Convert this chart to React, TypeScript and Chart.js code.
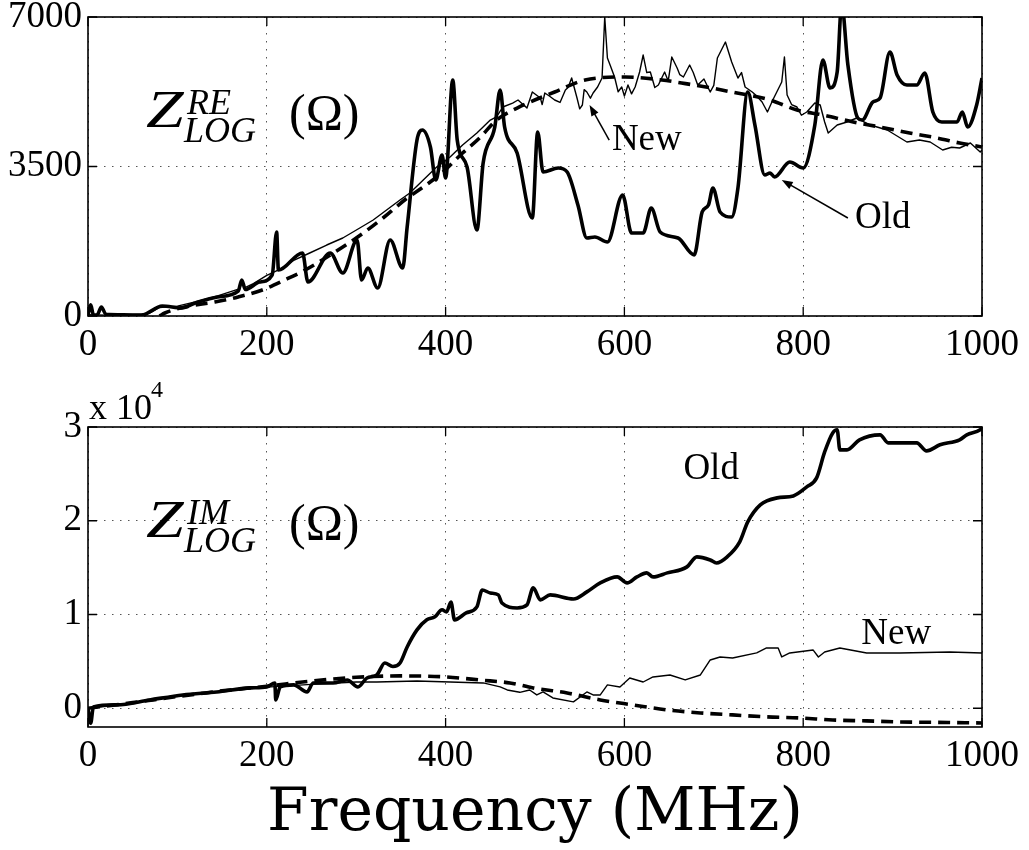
import React, { useEffect, useRef } from 'react';
import { Chart, registerables } from 'chart.js';

Chart.register(...registerables);

// ---------- data (frequency in MHz, impedance in Ohm) ----------
const xTicks = [0, 200, 400, 600, 800, 1000];
const reTicks = [0, 3500, 7000];
const imTicks = [0, 10000, 20000, 30000];
const imTickLabels = ['0', '1', '2', '3'];

const reOldF = [0,3,6,10,15,20,40,60,83,105,120,145,168,172,176,192,206,211,213,240,246,271,285,301,306,313,324,338,352,357,368,374,383,389,396,400,408,413,424,435,442,455,461,466,480,497,503,509,526,536,548,558,567,581,598,608,621,630,640,660,678,687,694,699,707,720,727,738,746,757,763,768,785,800,813,822,830,838,843,850,861,866,878,886,897,905,916,927,936,945,955,972,978,984,994,1000];
const reOldV = [20,260,30,20,210,40,30,20,234,187,304,445,580,843,620,796,960,1966,1077,1475,796,1475,1007,1779,843,1124,655,1779,1124,2083,4120,4354,3956,3184,3769,3231,5525,4120,3488,2013,3582,4424,5291,4424,3816,2294,4307,3371,3465,3371,2599,1826,1849,1732,2833,1943,1943,2528,1966,1826,1428,2435,2599,2996,2435,2318,2996,5244,4471,3301,3348,3254,3605,3465,4471,5993,5337,5712,7300,5876,4635,4588,5010,5103,6180,5642,5408,5408,5689,4776,4542,4542,4776,4424,4940,5572];

const reNewF = [0,20,40,60,70,80,100,120,145,170,172,175,185,200,215,230,248,267,285,304,319,334,349,360,375,390,405,419,435,450,457,464,475,481,491,497,506,508,511,516,522,528,534,537,541,547,550,553,555,558,562,565,570,575,578,581,584,589,593,597,600,604,608,612,617,621,625,629,634,638,645,649,653,659,662,666,673,677,682,689,696,700,704,713,720,727,731,735,743,748,754,760,766,776,779,782,787,793,798,804,813,819,824,828,838,849,860,875,894,916,930,942,956,966,975,987,998,1000];
const reNewV = [30,20,30,40,80,200,230,330,470,640,800,660,760,950,1100,1300,1475,1662,1826,2060,2247,2481,2715,2879,3184,3488,3722,4003,4284,4588,4659,4893,4986,5057,4869,5244,5103,4950,5220,5150,5057,5000,5291,5350,5572,5103,4850,4940,5300,5244,5100,5220,5361,5572,7000,6040,5876,5595,5250,5361,5150,5408,5200,5361,5712,6110,5700,5712,5350,5408,5712,5500,6063,5806,5650,5595,5876,5700,5408,5550,5244,5400,6040,6414,5946,5572,5700,5361,5244,5150,5010,4776,5057,5478,6063,5174,4950,4893,4700,4776,4986,4940,4542,4284,4471,4542,4635,4471,4354,4073,4120,4073,3886,3950,3933,4050,3839,3886];

const reFitF = [80,86,108,142,168,195,220,243,285,308,330,357,375,397,419,438,457,480,522,556,601,642,664,698,720,763,793,822,856,886,919,950,975,1000];
const reFitV = [0,70,210,328,445,609,843,1077,1615,1943,2294,2762,3020,3371,3816,4167,4588,4869,5244,5525,5595,5525,5455,5337,5244,5057,4822,4705,4542,4424,4284,4167,4050,3956];

const imOldF = [0,3,6,32,69,106,144,181,200,209,210,215,230,245,252,274,290,302,312,323,332,341,349,357,368,379,388,396,401,406,410,423,435,441,450,459,463,480,491,498,506,517,543,558,573,592,603,614,625,632,648,670,681,696,703,715,729,738,752,771,789,804,815,824,833,838,841,849,863,886,895,927,938,953,975,983,998,1000];
const imOldV = [0,-1600,140,360,885,1420,1740,2170,2270,2700,885,2270,2490,1740,2700,2700,3020,2270,3230,3550,4830,4450,4830,6540,8360,9430,9750,10500,10270,11330,9430,10170,10810,12620,12300,12090,11220,10700,11020,12840,11560,12090,11660,12410,13370,14010,13370,14010,14440,14010,14440,15080,16150,15820,15500,16150,17750,19880,21690,22440,22650,23610,24570,27340,29370,29700,27560,27560,28630,29160,28310,28310,27450,28100,28630,29160,29700,29900];

const imNewF = [0,30,70,100,150,200,250,300,323,368,405,442,461,469,483,494,502,509,520,543,558,565,573,581,595,606,621,632,651,668,685,696,707,721,748,759,772,776,785,811,817,824,841,871,908,964,1000];
const imNewV = [0,330,850,1300,1800,2250,2550,2800,2800,2910,2800,2700,2280,1950,1700,1950,1420,1740,1100,680,1740,1420,1420,2490,2270,3230,2800,3340,3550,3020,3550,5150,5470,5360,5900,6430,6430,5470,5900,6220,5470,6000,6430,5900,5900,6000,5900];

const imFitF = [0,50,100,150,200,250,300,349,400,440,472,498,536,573,610,648,685,721,759,796,833,871,908,944,1000];
const imFitV = [0,600,1250,1850,2350,2900,3300,3450,3340,3000,2700,2170,1630,890,350,-180,-500,-710,-920,-1030,-1250,-1350,-1460,-1500,-1570];

// annotation anchors in data units: [x, y]
const reNewLabel = { text: 'New', at: [586, 3886], from: [583, 4120], tip: [561, 4940] };
const reOldLabel = { text: 'Old', at: [858, 2060], from: [850, 2294], tip: [776, 3184] };
const imOldLabel = { text: 'Old', at: [666, 24470] };
const imNewLabel = { text: 'New', at: [865, 6860] };

const SERIF = '"Liberation Serif", "Times New Roman", serif';
const W = 1029;
const TOP_H = 375;
const BOT_H = 475;

const pts = (f: number[], v: number[]) => f.map((x, i) => ({ x, y: v[i] }));

function datasets(oldF: number[], oldV: number[], newF: number[], newV: number[], fitF: number[], fitV: number[]) {
  return [
    {
      label: 'Fit', data: pts(fitF, fitV), borderColor: '#000', borderWidth: 3.6,
      borderDash: [12, 7], pointRadius: 0, cubicInterpolationMode: 'monotone' as const, fill: false,
    },
    {
      label: 'New', data: pts(newF, newV), borderColor: '#000', borderWidth: 1.4,
      pointRadius: 0, tension: 0, fill: false, borderJoinStyle: 'round' as const,
    },
    {
      label: 'Old', data: pts(oldF, oldV), borderColor: '#000', borderWidth: 3.6,
      pointRadius: 0, cubicInterpolationMode: 'monotone' as const, fill: false, borderJoinStyle: 'round' as const,
    },
  ];
}

const framePlugin = {
  id: 'frame',
  afterDatasetsDraw(chart: any) {
    const { ctx, chartArea } = chart;
    const { left, right, top, bottom } = chartArea;
    const xs = chart.scales.x;
    const ys = chart.scales.y;
    const L = 9;
    ctx.save();
    ctx.strokeStyle = '#000';
    ctx.lineWidth = 1.3;
    ctx.setLineDash([]);
    ctx.beginPath();
    xs.ticks.forEach((t: any) => {
      const px = xs.getPixelForValue(t.value);
      ctx.moveTo(px, bottom); ctx.lineTo(px, bottom - L);
      ctx.moveTo(px, top); ctx.lineTo(px, top + L);
    });
    ys.ticks.forEach((t: any) => {
      const py = ys.getPixelForValue(t.value);
      ctx.moveTo(left, py); ctx.lineTo(left + L, py);
      ctx.moveTo(right, py); ctx.lineTo(right - L, py);
    });
    ctx.stroke();
    ctx.lineWidth = 1.6;
    ctx.strokeRect(left, top, right - left, bottom - top);
    ctx.restore();
  },
};

function drawArrow(ctx: CanvasRenderingContext2D, x1: number, y1: number, x2: number, y2: number) {
  const ang = Math.atan2(y2 - y1, x2 - x1);
  const hl = 11, hw = 4;
  ctx.beginPath();
  ctx.moveTo(x1, y1);
  ctx.lineTo(x2 - Math.cos(ang) * hl * 0.8, y2 - Math.sin(ang) * hl * 0.8);
  ctx.stroke();
  ctx.beginPath();
  ctx.moveTo(x2, y2);
  ctx.lineTo(x2 - Math.cos(ang) * hl - Math.sin(ang) * hw, y2 - Math.sin(ang) * hl + Math.cos(ang) * hw);
  ctx.lineTo(x2 - Math.cos(ang) * hl + Math.sin(ang) * hw, y2 - Math.sin(ang) * hl - Math.cos(ang) * hw);
  ctx.closePath();
  ctx.fill();
}

function makeTextPlugin(sup: string, labels: any[], extra?: (chart: any) => void) {
  return {
    id: 'texts',
    afterDraw(chart: any) {
      const { ctx, chartArea } = chart;
      const xs = chart.scales.x;
      const ys = chart.scales.y;
      ctx.save();
      ctx.fillStyle = '#000';
      ctx.strokeStyle = '#000';
      ctx.textAlign = 'left';
      ctx.textBaseline = 'alphabetic';
      // Z label (Z with superscript and LOG subscript, then unit)
      const zx = chartArea.left + 58;
      const zb = chartArea.top + 110;
      ctx.save();
      ctx.translate(zx, zb);
      ctx.scale(1.3, 1);
      ctx.font = `italic 52px ${SERIF}`;
      ctx.fillText('Z', 0, 0);
      ctx.restore();
      ctx.font = `italic 36px ${SERIF}`;
      ctx.fillText(sup, zx + 41, zb - 13);
      ctx.fillText('LOG', zx + 38, zb + 15);
      ctx.font = `50px ${SERIF}`;
      ctx.fillText('(\u03A9)', zx + 143, zb + 2);
      // annotations
      ctx.lineWidth = 1.5;
      labels.forEach((lb) => {
        ctx.font = `37px ${SERIF}`;
        ctx.fillText(lb.text, xs.getPixelForValue(lb.at[0]), ys.getPixelForValue(lb.at[1]));
        if (lb.from && lb.tip) {
          drawArrow(ctx, xs.getPixelForValue(lb.from[0]), ys.getPixelForValue(lb.from[1]),
            xs.getPixelForValue(lb.tip[0]), ys.getPixelForValue(lb.tip[1]));
        }
      });
      if (extra) extra(chart);
      ctx.restore();
    },
  };
}

function baseOptions(opts: {
  yMin: number; yMax: number; yTicks: number[]; yLabel: (v: number) => string;
  padTop: number; xHeight: number; title?: boolean;
}) {
  return {
    responsive: false,
    maintainAspectRatio: false,
    animation: false as const,
    devicePixelRatio: 1,
    layout: { padding: { left: 0, right: W - 982, top: opts.padTop, bottom: 0 } },
    plugins: { legend: { display: false }, tooltip: { enabled: false } },
    scales: {
      x: {
        type: 'linear' as const,
        min: 0, max: 1000,
        afterBuildTicks: (s: any) => { s.ticks = xTicks.map((v) => ({ value: v })); },
        afterFit: (s: any) => { s.height = opts.xHeight; s.paddingLeft = 0; s.paddingRight = 0; },
        ticks: {
          color: '#000', padding: 7, maxRotation: 0, autoSkip: false,
          font: { family: SERIF, size: 37, lineHeight: 1.2 },
          callback: (v: any) => String(v),
        },
        grid: { color: '#555', lineWidth: 1, drawTicks: false },
        border: { display: false, dash: [1.5, 6.5] },
        title: opts.title ? {
          display: true, text: 'Frequency (MHz)', color: '#000',
          font: { family: '"DejaVu Serif", serif', size: 60, lineHeight: 1.2 },
          padding: { top: 0, bottom: 0 },
        } : { display: false },
      },
      y: {
        type: 'linear' as const,
        min: opts.yMin, max: opts.yMax,
        afterBuildTicks: (s: any) => { s.ticks = opts.yTicks.map((v) => ({ value: v })); },
        afterFit: (s: any) => { s.width = 88; s.paddingTop = 0; s.paddingBottom = 0; },
        ticks: {
          color: '#000', padding: 6, autoSkip: false,
          font: { family: SERIF, size: 37, lineHeight: 1.2 },
          callback: (v: any) => opts.yLabel(Number(v)),
        },
        grid: { color: '#555', lineWidth: 1, drawTicks: false },
        border: { display: false, dash: [1.5, 6.5] },
      },
    },
  };
}

export default function App() {
  const topRef = useRef<HTMLCanvasElement>(null);
  const botRef = useRef<HTMLCanvasElement>(null);

  useEffect(() => {
    const top = new Chart(topRef.current as HTMLCanvasElement, {
      type: 'line',
      data: { datasets: datasets(reOldF, reOldV, reNewF, reNewV, reFitF, reFitV) as any },
      options: baseOptions({
        yMin: 0, yMax: 7000, yTicks: reTicks, yLabel: (v) => String(v),
        padTop: 17, xHeight: TOP_H - 316,
      }) as any,
      plugins: [framePlugin, makeTextPlugin('RE', [reNewLabel, reOldLabel])],
    });

    const exponent = (chart: any) => {
      const { ctx, chartArea } = chart;
      ctx.font = `36px ${SERIF}`;
      ctx.fillText('x 10', chartArea.left + 1, chartArea.top - 8);
      ctx.font = `24px ${SERIF}`;
      ctx.fillText('4', chartArea.left + 63, chartArea.top - 30);
    };

    const bot = new Chart(botRef.current as HTMLCanvasElement, {
      type: 'line',
      data: { datasets: datasets(imOldF, imOldV, imNewF, imNewV, imFitF, imFitV) as any },
      options: baseOptions({
        yMin: -2000, yMax: 30000, yTicks: imTicks,
        yLabel: (v) => imTickLabels[imTicks.indexOf(v)] ?? '',
        padTop: 52, xHeight: BOT_H - 352, title: true,
      }) as any,
      plugins: [framePlugin, makeTextPlugin('IM', [imOldLabel, imNewLabel], exponent)],
    });

    return () => { top.destroy(); bot.destroy(); };
  }, []);

  return (
    <div style={{ position: 'absolute', left: 0, top: 0, width: W, height: 850, background: '#fff' }}>
      <canvas ref={topRef} width={W} height={TOP_H} style={{ position: 'absolute', left: 0, top: 0 }} />
      <canvas ref={botRef} width={W} height={BOT_H} style={{ position: 'absolute', left: 0, top: TOP_H }} />
    </div>
  );
}
